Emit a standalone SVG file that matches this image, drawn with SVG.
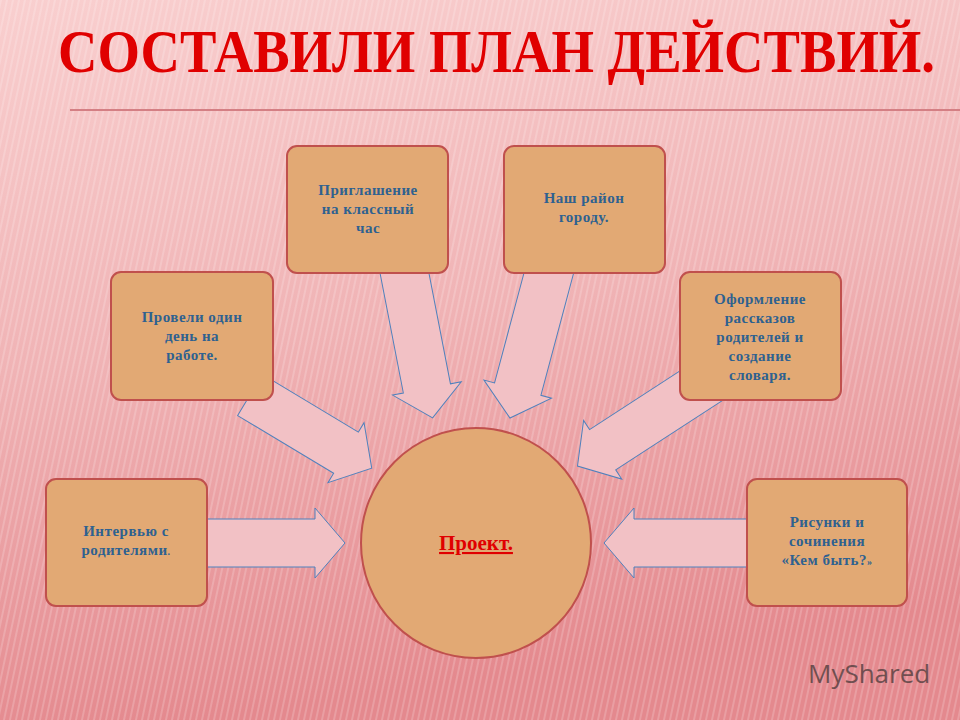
<svg xmlns="http://www.w3.org/2000/svg" width="960" height="720" viewBox="0 0 960 720">
<defs>
<linearGradient id="bg" x1="0" y1="0" x2="0.2" y2="1">
<stop offset="0" stop-color="#f9cfcf"/>
<stop offset="0.5" stop-color="#f0b3b5"/>
<stop offset="1" stop-color="#e4898e"/>
</linearGradient>
<pattern id="stripes" width="6" height="10" patternUnits="userSpaceOnUse" patternTransform="skewX(-12)">
<rect width="2" height="10" fill="#ffffff" opacity="0.18"/>
</pattern>
<style>
.box{fill:#e2a974;stroke:#c0504d;stroke-width:2}
.arr{fill:#f2c1c5;stroke:#4f81bd;stroke-width:1}
.t{font-family:"Liberation Serif",serif;font-weight:bold;font-size:15px;fill:#2e6190;text-anchor:middle;letter-spacing:0.5px}
</style>
</defs>
<rect width="960" height="720" fill="url(#bg)"/>
<rect width="960" height="720" fill="url(#stripes)"/>
<line x1="70" y1="110" x2="960" y2="110" stroke="#d47f84" stroke-width="2"/>
<text x="58" y="72" font-family="Liberation Serif,serif" font-weight="bold" font-size="62" fill="#e00000" textLength="877" lengthAdjust="spacingAndGlyphs">СОСТАВИЛИ  ПЛАН  ДЕЙСТВИЙ.</text>
<g id="connectors">
<path class="arr" transform="translate(190,543)" d="M0,-24 H125 V-35 L155,0 L125,35 V24 H0 Z"/>
<path class="arr" transform="translate(765,543) rotate(180)" d="M0,-24 H131 V-35 L161,0 L131,35 V24 H0 Z"/>
<path class="arr" transform="translate(250,395) rotate(31)" d="M0,-24 H112 V-35 L142,0 L112,35 V24 H0 Z"/>
<path class="arr" transform="translate(400,250) rotate(79)" d="M0,-24 H141 V-35 L171,0 L141,35 V24 H0 Z"/>
<path class="arr" transform="translate(555,250) rotate(105)" d="M0,-24 H144 V-35 L174,0 L144,35 V24 H0 Z"/>
<path class="arr" transform="translate(710,380) rotate(147)" d="M0,-24 H128 V-35 L158,0 L128,35 V24 H0 Z"/>
</g>
<g id="center"><circle cx="476" cy="543" r="115" class="box"/>
<text x="476" y="550" font-family="Liberation Serif,serif" font-weight="bold" font-size="21" fill="#e00000" text-anchor="middle" text-decoration="underline">Проект.</text></g>
<g id="n1"><rect class="box" x="46" y="479" width="161" height="127" rx="10"/>
<text class="t" x="126" y="536">Интервью с</text><text class="t" x="126" y="555">родителями<tspan font-size="10">.</tspan></text></g>
<g id="n2"><rect class="box" x="111" y="272" width="162" height="128" rx="10"/>
<text class="t" x="192" y="322">Провели один</text><text class="t" x="192" y="341">день на</text><text class="t" x="192" y="360">работе.</text></g>
<g id="n3"><rect class="box" x="287" y="146" width="161" height="127" rx="10"/>
<text class="t" x="368" y="195">Приглашение</text><text class="t" x="368" y="214">на классный</text><text class="t" x="368" y="233">час</text></g>
<g id="n4"><rect class="box" x="504" y="146" width="161" height="127" rx="10"/>
<text class="t" x="584" y="203">Наш район</text><text class="t" x="584" y="222">городу.</text></g>
<g id="n5"><rect class="box" x="680" y="272" width="161" height="128" rx="10"/>
<text class="t" x="760" y="304">Оформление</text><text class="t" x="760" y="323">рассказов</text><text class="t" x="760" y="342">родителей и</text><text class="t" x="760" y="361">создание</text><text class="t" x="760" y="380">словаря.</text></g>
<g id="n6"><rect class="box" x="747" y="479" width="160" height="127" rx="10"/>
<text class="t" x="827" y="527">Рисунки и</text><text class="t" x="827" y="546">сочинения</text><text class="t" x="827" y="565">«Кем быть?<tspan font-size="10">»</tspan></text></g>
<text x="808" y="683" font-family="Open Sans,sans-serif" font-size="26" fill="#4a3a3a" opacity="0.75">MyShared</text>
</svg>
